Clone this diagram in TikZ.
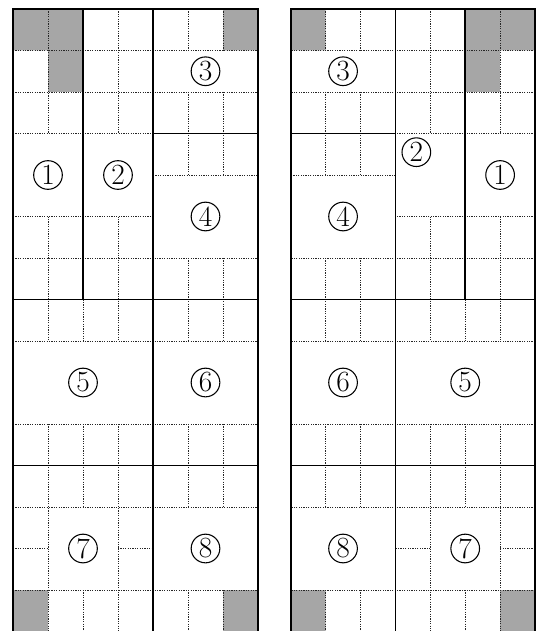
\documentclass[tikz,border=0pt]{standalone}
\tikzset{
  shadecell/.style={fill=black!35},
  dotline/.style={line width=0.6pt, dash pattern=on 0.9pt off 0.9pt, black!85},
  solidline/.style={line width=1.3pt, black},
  lbl/.style={circle, draw, line width=0.8pt, minimum size=21.5pt, inner sep=0pt,
              font=\fontsize{22}{22}\selectfont}
}
\newcommand\panelgrid{%
  \fill[shadecell] (0,0) rectangle (2,1) (1,1) rectangle (2,2) (6,0) rectangle (7,1)
                   (0,14) rectangle (1,15.3) (6,14) rectangle (7,15.3);
  \draw[dotline] (0,1)--(7,1) (0,2)--(7,2) (0,3)--(4,3) (4,4)--(7,4) (0,5)--(4,5)
                 (0,6)--(7,6) (0,8)--(7,8) (0,10)--(7,10) (0,12)--(7,12) (0,14)--(7,14)
                 (0,13)--(1,13) (3,13)--(4,13);
  \draw[dotline] (1,0)--(1,3) (1,5)--(1,8) (1,10)--(1,15.3)
                 (2,7)--(2,8) (2,10)--(2,12) (2,14)--(2,15.3)
                 (3,0)--(3,3) (3,5)--(3,8) (3,10)--(3,15.3)
                 (5,0)--(5,1) (5,2)--(5,4) (5,6)--(5,8) (5,10)--(5,12) (5,14)--(5,15.3)
                 (6,0)--(6,1) (6,2)--(6,4) (6,6)--(6,8) (6,10)--(6,12) (6,14)--(6,15.3);
  \draw[solidline] (0,15.3)--(0,0)--(7,0)--(7,15.3);
  \draw[solidline] (2,0)--(2,7) (4,0)--(4,15.3) (4,3)--(7,3) (0,7)--(7,7) (0,11)--(7,11);
}
\begin{document}
\begin{tikzpicture}[x=0.75pt,y=-0.75pt]
\useasboundingbox (0,0) rectangle (537,631);
\fill[white] (0,0) rectangle (537,631);
\clip (0,0) rectangle (537,631);
% left panel
\begin{scope}[xshift=9.75pt, yshift=-6.75pt, x=26.25pt, y=-31.125pt]
  \panelgrid
  \node[lbl] (l1) at (1,4) {1};
  \node[lbl] (l2) at (3,4) {2};
  \node[lbl] (l3) at (5.5,1.5) {3};
  \node[lbl] (l4) at (5.5,5) {4};
  \node[lbl] (l5) at (2,9) {5};
  \node[lbl] (l6) at (5.5,9) {6};
  \node[lbl] (l7) at (2,13) {7};
  \node[lbl] (l8) at (5.5,13) {8};
\end{scope}
% right panel (mirrored)
\begin{scope}[xshift=401.25pt, yshift=-6.75pt, x=-26.175pt, y=-31.125pt]
  \panelgrid
  \node[lbl] (r1) at (1,4) {1};
  \node[lbl] (r2) at (3.4,3.45) {2};
  \node[lbl] (r3) at (5.5,1.5) {3};
  \node[lbl] (r4) at (5.5,5) {4};
  \node[lbl] (r5) at (2,9) {5};
  \node[lbl] (r6) at (5.5,9) {6};
  \node[lbl] (r7) at (2,13) {7};
  \node[lbl] (r8) at (5.5,13) {8};
\end{scope}
\end{tikzpicture}
\end{document}
